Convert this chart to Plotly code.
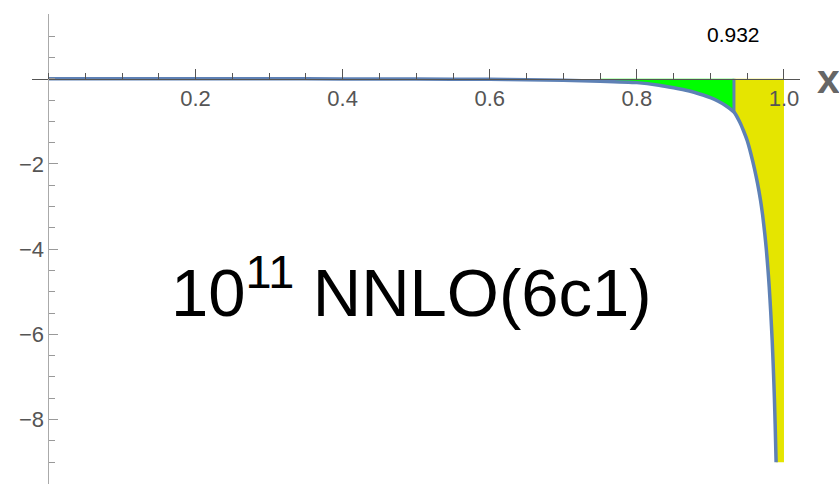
import plotly.graph_objects as go

# Sampled curve of 10^11 NNLO(6c1) as a function of x
x_curve = [0.0, 0.1, 0.2, 0.3, 0.4, 0.5, 0.6, 0.65, 0.7, 0.75, 0.8, 0.83, 0.85,
           0.87, 0.89, 0.90, 0.91, 0.92, 0.932, 0.94, 0.945, 0.95, 0.955, 0.96,
           0.964, 0.968, 0.971, 0.974, 0.976, 0.978, 0.980, 0.982, 0.984,
           0.9855, 0.987, 0.988, 0.9893]
y_curve = [0.0, 0.0, 0.0, 0.0, -0.002, -0.005, -0.012, -0.02, -0.035, -0.055,
           -0.09, -0.15, -0.21, -0.28, -0.38, -0.44, -0.52, -0.62, -0.78, -1.02,
           -1.22, -1.45, -1.76, -2.12, -2.45, -2.84, -3.2, -3.65, -4.0, -4.42,
           -4.9, -5.48, -6.15, -6.78, -7.5, -8.1, -9.0]

x_cut = 0.932          # boundary between the two shaded regions
x_green_start = 0.75   # where the green shading begins
x_end = 1.0            # right end of the yellow shading
y_clip = -9.0          # lower clip of the plotted range

x_major = [0.2, 0.4, 0.6, 0.8, 1.0]
x_major_text = ["0.2", "0.4", "0.6", "0.8", "1.0"]
y_major = [-8, -6, -4, -2]
y_major_text = ["\u22128", "\u22126", "\u22124", "\u22122"]

title_text = "10<sup>11</sup> NNLO(6c1)"

CURVE = "#5E81B5"
GREEN = "#00FF00"
YELLOW = "#E5E500"
FONT = "Liberation Sans, Arial, sans-serif"

# value of the curve at the cut
i_cut = x_curve.index(x_cut)
y_cut = y_curve[i_cut]

# green region: curve to axis between x_green_start and x_cut
gx = [x for x in x_curve if x_green_start <= x <= x_cut]
gy = [y for x, y in zip(x_curve, y_curve) if x_green_start <= x <= x_cut]
green_x = gx + [x_cut, x_green_start, gx[0]]
green_y = gy + [0, 0, gy[0]]

# yellow region: curve (clipped) to axis between x_cut and x_end
yx = [x for x in x_curve if x >= x_cut]
yy = [y for x, y in zip(x_curve, y_curve) if x >= x_cut]
yellow_x = yx + [x_end, x_end, x_cut, yx[0]]
yellow_y = yy + [y_clip, 0, 0, yy[0]]

x_range = [-0.0224, 1.0218]
y_range = [-9.512, 1.521]

fig = go.Figure()
fig.add_trace(go.Scatter(x=green_x, y=green_y, mode="lines", fill="toself",
                         fillcolor=GREEN, line=dict(width=0), hoverinfo="skip"))
fig.add_trace(go.Scatter(x=yellow_x, y=yellow_y, mode="lines", fill="toself",
                         fillcolor=YELLOW, line=dict(width=0), hoverinfo="skip"))
fig.add_trace(go.Scatter(x=x_curve, y=y_curve, mode="lines",
                         line=dict(color=CURVE, width=3.5, shape="spline",
                                   smoothing=0.6)))
fig.add_trace(go.Scatter(x=[x_cut, x_cut], y=[0, y_cut], mode="lines",
                         line=dict(color=CURVE, width=3)))

fig.update_layout(
    width=839, height=484,
    margin=dict(l=32, r=39, t=14, b=0),
    paper_bgcolor="white", plot_bgcolor="white",
    showlegend=False,
    font=dict(family=FONT),
    xaxis=dict(
        range=x_range, anchor="free",
        position=(0 - y_range[0]) / (y_range[1] - y_range[0]),
        showline=True, linecolor="#555555", linewidth=1,
        showgrid=False, zeroline=False,
        ticks="inside", ticklen=10, tickcolor="#555555", tickwidth=1,
        tickvals=x_major, ticktext=x_major_text,
        tickfont=dict(size=22, color="#555555", family=FONT),
        minor=dict(tick0=0, dtick=0.05, ticks="inside", ticklen=6,
                   tickcolor="#555555", showgrid=False),
        automargin=False,
    ),
    yaxis=dict(
        range=y_range, anchor="free",
        position=(0 - x_range[0]) / (x_range[1] - x_range[0]),
        showline=True, linecolor="#aaaaaa", linewidth=1,
        showgrid=False, zeroline=False,
        ticks="inside", ticklen=9, tickcolor="#999999", tickwidth=1,
        tickvals=y_major, ticktext=y_major_text,
        tickfont=dict(size=22, color="#555555", family=FONT),
        minor=dict(tick0=0, dtick=0.5, ticks="inside", ticklen=6,
                   tickcolor="#999999", showgrid=False),
        automargin=False,
    ),
)

fig.add_annotation(x=x_cut, y=1.05, xref="x", yref="y", text="0.932",
                   showarrow=False, font=dict(size=21, color="black", family=FONT),
                   xanchor="center", yanchor="middle")
fig.add_annotation(x=(828.5 - 32) / 768, y=0, xref="paper", yref="y", text="<b>x</b>",
                   showarrow=False, font=dict(size=41, color="#666666", family=FONT),
                   xanchor="center", yanchor="middle")
fig.add_annotation(x=0.493, y=-4.9, xref="x", yref="y", text=title_text,
                   showarrow=False, font=dict(size=67, color="black", family=FONT),
                   xanchor="center", yanchor="middle")

fig.write_html("out.html")
